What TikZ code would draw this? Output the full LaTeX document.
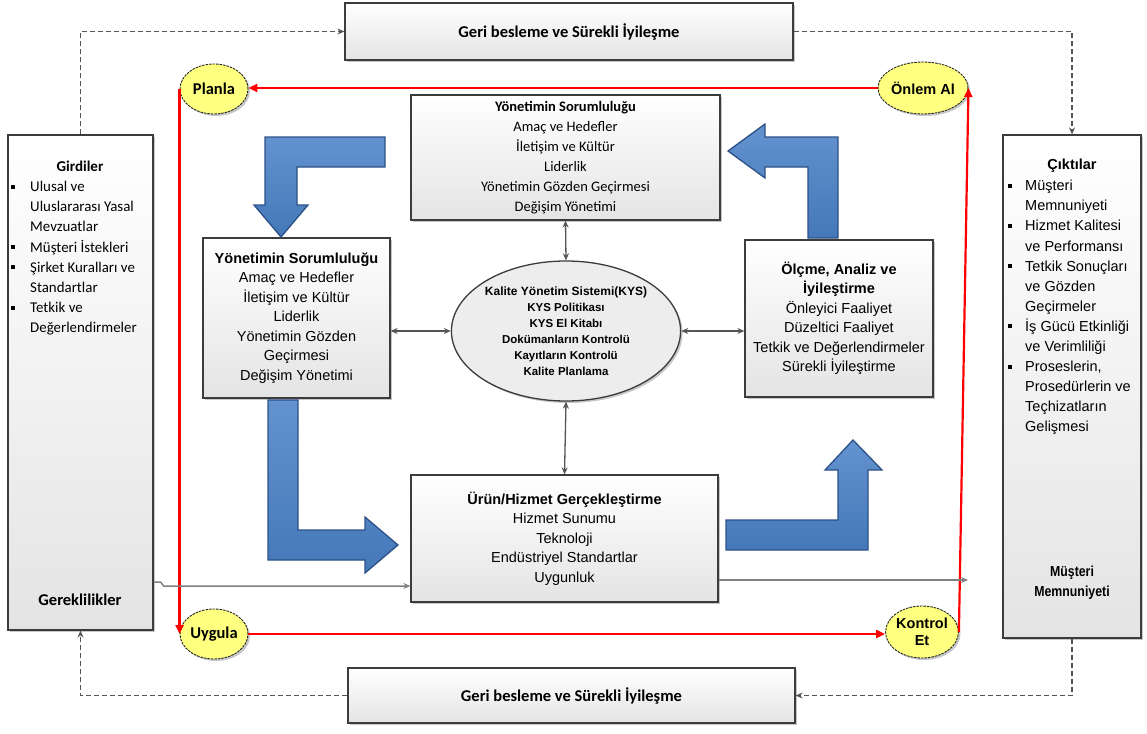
\documentclass[tikz,border=0pt]{standalone}
\usepackage{fontspec}
\setmainfont{Liberation Sans}
\newfontfamily\calfont{Carlito}
\newfontfamily\narfont[FakeStretch=0.85]{Liberation Sans}
\usetikzlibrary{shapes.geometric,shadows,arrows.meta}
\definecolor{boxline}{HTML}{3C3C3C}
\definecolor{boxbot}{HTML}{E4E4E4}
\definecolor{flowgray}{HTML}{808080}
\definecolor{linegray}{HTML}{555555}
\definecolor{pdcared}{HTML}{FF0000}
\definecolor{pdcayel}{HTML}{FFFF80}
\definecolor{bluefill}{HTML}{4478B8}
\definecolor{bluetop}{HTML}{6393CF}
\definecolor{blueedge}{HTML}{2C5187}
\definecolor{ellfill}{HTML}{EDEDED}
\newcommand\sqb{\makebox[19pt][l]{\rule[3pt]{4pt}{4pt}}}
\newcommand\sqc{\makebox[17pt][l]{\rule[3pt]{4pt}{4pt}}}
\newcommand\indb{\hspace*{19pt}}
\newcommand\indc{\hspace*{17pt}}
\begin{document}
\begin{tikzpicture}[x=1pt,y=-1pt,
  box/.style={draw=boxline, line width=1.2pt, top color=white, bottom color=boxbot,
    drop shadow={shadow xshift=2pt,shadow yshift=-2pt,opacity=0.22,fill=black},
    align=center, inner sep=2pt},
  calt/.style={font=\calfont\fontsize{14.9}{20.2}\selectfont},
  arialt/.style={font=\fontsize{14.5}{19.5}\selectfont},
  pdca/.style={ellipse, draw=black!85, line width=0.9pt, dash pattern=on 2.5pt off 1pt,
    fill=pdcayel, inner sep=0pt, align=center,
    drop shadow={shadow xshift=2pt,shadow yshift=-2pt,opacity=0.22,fill=black}},
  redarrow/.style={draw=pdcared, line width=2.2pt, -{Triangle[length=9pt,width=8pt]}},
  flow/.style={draw=flowgray, line width=1.5pt, -{Stealth[length=7pt,width=6pt]}},
  twoway/.style={draw=linegray, line width=1.3pt,
    {Stealth[length=7pt,width=6pt]}-{Stealth[length=7pt,width=6pt]}},
  fbline/.style={draw=linegray, line width=1.2pt, dash pattern=on 5pt off 3pt,
    -{Stealth[length=7pt,width=6pt]}},
  bluearrow/.style={draw=blueedge, line width=1.3pt, top color=bluetop, bottom color=bluefill}
]
\useasboundingbox (0,0) rectangle (1147,733);

% feedback boxes
\node[box, font=\calfont\bfseries\fontsize{16.5}{20}\selectfont,
  minimum width=448pt, minimum height=57pt] (fbtop) at (569,31.5) {Geri besleme ve Sürekli İyileşme};
\node[box, font=\calfont\bfseries\fontsize{16.5}{20}\selectfont,
  minimum width=447pt, minimum height=55pt] (fbbot) at (571.5,695.5) {Geri besleme ve Sürekli İyileşme};

% inputs / outputs boxes
\node[box, minimum width=145pt, minimum height=495pt] (gir) at (80.5,382.5) {};
\node[box, minimum width=138pt, minimum height=503pt] (cik) at (1072,386.5) {};

\node[font=\calfont\bfseries\fontsize{15}{20}\selectfont, inner sep=0] (girt) at (80,166) {Girdiler};
\node[calt, anchor=north west, align=left, inner sep=0] (girl) at (11,181)
  {\sqb Ulusal ve\\ \indb Uluslararası Yasal\\ \indb Mevzuatlar\\ \sqb Müşteri İstekleri\\
   \sqb Şirket Kuralları ve\\ \indb Standartlar\\ \sqb Tetkik ve\\ \indb Değerlendirmeler};
\node[font=\calfont\bfseries\fontsize{16.5}{20}\selectfont, inner sep=0] (gere) at (80,600) {Gereklilikler};

\node[font=\bfseries\fontsize{14.5}{19.5}\selectfont, inner sep=0] (cikt) at (1072,166) {Çıktılar};
\node[font=\fontsize{14.5}{20.1}\selectfont, anchor=north west, align=left, inner sep=0] (cikl) at (1008,180)
  {\sqc Müşteri\\ \indc Memnuniyeti\\ \sqc Hizmet Kalitesi\\ \indc ve Performansı\\
   \sqc Tetkik Sonuçları\\ \indc ve Gözden\\ \indc Geçirmeler\\ \sqc İş Gücü Etkinliği\\
   \indc ve Verimliliği\\ \sqc Proseslerin,\\ \indc Prosedürlerin ve\\ \indc Teçhizatların\\ \indc Gelişmesi};
\node[font=\narfont\bfseries\fontsize{14.5}{20}\selectfont, align=center, inner sep=0] (musm) at (1072,583)
  {Müşteri\\Memnuniyeti};

% process boxes
\node[box, font=\calfont\fontsize{14.5}{20}\selectfont, minimum width=309pt, minimum height=125pt] (ytop) at (565.5,157.5)
  {\textbf{Yönetimin Sorumluluğu}\\Amaç ve Hedefler\\İletişim ve Kültür\\Liderlik\\Yönetimin Gözden Geçirmesi\\Değişim Yönetimi};
\node[box, arialt, minimum width=187pt, minimum height=160pt] (yleft) at (296.5,318)
  {\textbf{Yönetimin Sorumluluğu}\\Amaç ve Hedefler\\İletişim ve Kültür\\Liderlik\\Yönetimin Gözden\\Geçirmesi\\Değişim Yönetimi};
\node[box, arialt, minimum width=188pt, minimum height=157pt] (olc) at (839,318.5)
  {\textbf{Ölçme, Analiz ve}\\\textbf{İyileştirme}\\Önleyici Faaliyet\\Düzeltici Faaliyet\\Tetkik ve Değerlendirmeler\\Sürekli İyileştirme};
\node[box, arialt, minimum width=307pt, minimum height=127pt] (urun) at (564.5,538.5)
  {\textbf{Ürün/Hizmet Gerçekleştirme}\\Hizmet Sunumu\\Teknoloji\\Endüstriyel Standartlar\\Uygunluk};

% central ellipse
\node[ellipse, draw=boxline, line width=1.3pt, fill=ellfill, minimum width=207pt, minimum height=140pt,
  inner sep=0pt, align=center, font=\bfseries\fontsize{11.5}{16}\selectfont,
  drop shadow={shadow xshift=2pt,shadow yshift=-2pt,opacity=0.22,fill=black}] (kys) at (566,331)
  {{\fontsize{12}{16}\selectfont Kalite Yönetim Sistemi(KYS)}\\KYS Politikası\\KYS El Kitabı\\Dokümanların Kontrolü\\Kayıtların Kontrolü\\Kalite Planlama};

% PDCA ellipses
\node[pdca, minimum width=68pt, minimum height=50pt, font=\calfont\bfseries\fontsize{16.5}{18}\selectfont] (planla) at (214,89) {Planla};
\node[pdca, minimum width=68pt, minimum height=52pt, font=\bfseries\fontsize{14.5}{16}\selectfont] (onlem) at (923,88) {Önlem Al};
\node[pdca, minimum width=68pt, minimum height=50pt, font=\calfont\bfseries\fontsize{16.5}{18}\selectfont] (uygula) at (214,634) {Uygula};
\node[pdca, minimum width=70pt, minimum height=52pt, font=\bfseries\fontsize{14.5}{17}\selectfont] (kontrol) at (922,632) {Kontrol\\Et};

% red PDCA cycle
\draw[redarrow] (onlem.west) -- (onlem.west -| planla.east);
\draw[redarrow] (planla.west) -- (uygula.west);
\draw[redarrow] (uygula.east) -- (uygula.east -| kontrol.west);
\draw[redarrow] (kontrol.east) -- (onlem.east);

% feedback dashed loop
\draw[fbline] (gir.north) -- (gir.north |- fbtop.west) -- (fbtop.west);
\draw[fbline] (fbtop.east) -- (fbtop.east -| cik.north) -- (cik.north);
\draw[fbline] (cik.south) -- (cik.south |- fbbot.east) -- (fbbot.east);
\draw[fbline] (fbbot.west) -- (fbbot.west -| gir.south) -- (gir.south);

% two-way links with the central ellipse
\draw[twoway] (ytop.south) -- (kys.north);
\draw[twoway] (kys.south) -- (urun.north);
\draw[twoway] (kys.west) -- (kys.west -| yleft.east);
\draw[twoway] (kys.east) -- (kys.east -| olc.west);

% main flow
\coordinate (outend) at (968,580);
\draw[flow] (gir.east |- 0,582) -- ++(7,0) -- ++(3,4) -- (urun.west |- 0,586);
\draw[flow] (urun.east |- 0,580) -- (outend);

% blue block arrows
\draw[bluearrow] (385,137) -- (265,137) -- (265,205) -- (254,205) -- (281,237) -- (308,205)
  -- (297,205) -- (297,167) -- (385,167) -- cycle;
\draw[bluearrow] (268,400) -- (298,400) -- (298,530) -- (365,530) -- (365,517) -- (398,545)
  -- (365,573) -- (365,560) -- (268,560) -- cycle;
\draw[bluearrow] (726,520) -- (838,520) -- (838,470) -- (825,470) -- (853,440) -- (882,470)
  -- (868,470) -- (868,550) -- (726,550) -- cycle;
\draw[bluearrow] (838,238) -- (808,238) -- (808,167) -- (765,167) -- (765,178) -- (728,151)
  -- (765,124) -- (765,137) -- (838,137) -- cycle;
\end{tikzpicture}
\end{document}
